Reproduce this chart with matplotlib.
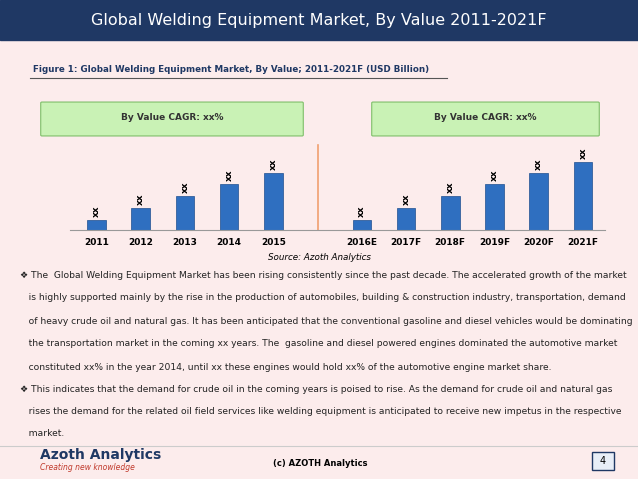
import matplotlib.pyplot as plt
from matplotlib.patches import Rectangle, FancyBboxPatch

categories = ["2011", "2012", "2013", "2014", "2015", "", "2016E", "2017F", "2018F", "2019F", "2020F", "2021F"]
values = [10, 22, 34, 46, 57, 0, 10, 22, 34, 46, 57, 68]
bar_labels = ["xx", "xx", "xx", "xx", "xx", "", "xx", "xx", "xx", "xx", "xx", "xx"]

W, H = 638, 479
fig = plt.figure(figsize=(W / 100, H / 100), dpi=100)
fig.patch.set_facecolor("#fcecec")

def fx(x): return x / W
def fy(y): return 1 - y / H

# header bar
fig.patches.append(Rectangle((0, fy(40)), 1, 40 / H, transform=fig.transFigure, color="#1f3864", zorder=0))
fig.text(0.5, fy(20), "Global Welding Equipment Market, By Value 2011-2021F", color="white",
         ha="center", va="center", fontsize=11.5)
fig.text(fx(33), fy(70), "Figure 1: Global Welding Equipment Market, By Value; 2011-2021F (USD Billion)",
         fontsize=6.3, fontweight="bold", color="#1f3864", va="center")
fig.add_artist(plt.Line2D([fx(30), fx(447)], [fy(78), fy(78)], color="#555555", lw=0.8))

# CAGR boxes
for x0, x1 in [(42, 302), (373, 598)]:
    fig.patches.append(FancyBboxPatch((fx(x0), fy(135)), fx(x1 - x0), 32 / H, boxstyle="round,pad=0.002",
                                      transform=fig.transFigure, fc="#c9f2b5", ec="#7fbf6a", lw=0.8, zorder=2))
    fig.text(fx((x0 + x1) / 2), fy(118), "By Value CAGR: xx%", ha="center", va="center",
             fontsize=6.5, fontweight="bold", color="#333333", zorder=3)

ax = fig.add_axes([fx(70), fy(230), fx(535), (230 - 95) / H])
ax.set_facecolor("none")
x = list(range(len(categories)))
ax.bar(x, values, width=0.42, color="#2f6fc0", edgecolor="#1f4f90", lw=0.5)
for xi, v, lab in zip(x, values, bar_labels):
    if lab:
        ax.text(xi, v + 3, lab, rotation=90, ha="center", va="bottom", fontsize=6.5, fontweight="bold")
ax.axvline(5, ymin=0, ymax=0.63, color="#f0a070", lw=1.2)
ax.set_xlim(-0.6, 11.5)
ax.set_ylim(0, 135)
ax.set_xticks(x)
ax.set_xticklabels(categories, fontsize=6.5, fontweight="bold")
ax.tick_params(axis="x", length=0, pad=6)
ax.set_yticks([])
for s in ["top", "right", "left"]:
    ax.spines[s].set_visible(False)
ax.spines["bottom"].set_color("#999999")

fig.text(fx(268), fy(258), "Source: Azoth Analytics", fontsize=6.3, style="italic", va="center")

lines = [
    (275, "\u2756 The  Global Welding Equipment Market has been rising consistently since the past decade. The accelerated growth of the market"),
    (298, "   is highly supported mainly by the rise in the production of automobiles, building & construction industry, transportation, demand"),
    (321, "   of heavy crude oil and natural gas. It has been anticipated that the conventional gasoline and diesel vehicles would be dominating"),
    (344, "   the transportation market in the coming xx years. The  gasoline and diesel powered engines dominated the automotive market"),
    (367, "   constituted xx% in the year 2014, until xx these engines would hold xx% of the automotive engine market share."),
    (389, "\u2756 This indicates that the demand for crude oil in the coming years is poised to rise. As the demand for crude oil and natural gas"),
    (412, "   rises the demand for the related oil field services like welding equipment is anticipated to receive new impetus in the respective"),
    (434, "   market."),
]
for y, t in lines:
    fig.text(fx(20), fy(y), t, fontsize=6.6, va="center", color="#222222")

# footer
fig.add_artist(plt.Line2D([0, 1], [fy(446), fy(446)], color="#cccccc", lw=0.8))
fig.text(fx(40), fy(455), "Azoth Analytics", fontsize=10, fontweight="bold", color="#1f3864", va="center")
fig.text(fx(40), fy(468), "Creating new knowledge", fontsize=5.5, style="italic", color="#c0392b", va="center")
fig.text(fx(320), fy(464), "(c) AZOTH Analytics", fontsize=6, fontweight="bold", ha="center", va="center")
fig.patches.append(Rectangle((fx(592), fy(470)), fx(22), 18 / H, transform=fig.transFigure,
                             fc="#e8eef7", ec="#1f3864", lw=1))
fig.text(fx(603), fy(461), "4", fontsize=7, ha="center", va="center")

fig.savefig("out.png", dpi=100, facecolor=fig.get_facecolor())
